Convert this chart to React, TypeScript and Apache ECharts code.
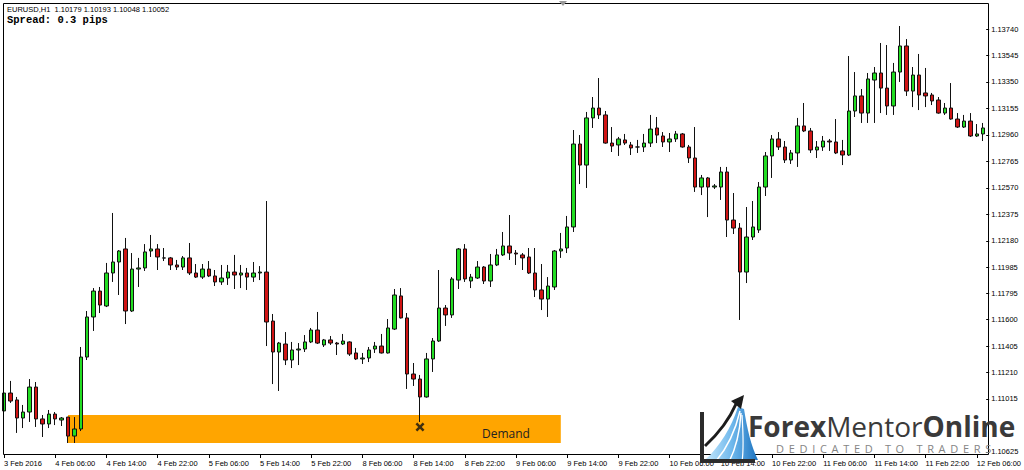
import React, { useEffect, useRef } from "react";
import * as echarts from "echarts";

// x-axis tick labels, one every LABEL_STEP hourly bars
const timeLabels = [
  "3 Feb 2016", "4 Feb 06:00", "4 Feb 14:00", "4 Feb 22:00", "5 Feb 06:00",
  "5 Feb 14:00", "5 Feb 22:00", "8 Feb 06:00", "8 Feb 14:00", "8 Feb 22:00",
  "9 Feb 06:00", "9 Feb 14:00", "9 Feb 22:00", "10 Feb 06:00", "10 Feb 14:00",
  "10 Feb 22:00", "11 Feb 06:00", "11 Feb 14:00", "11 Feb 22:00", "12 Feb 06:00",
];
const LABEL_STEP = 8;

// right axis price labels
const priceTicks = [
  1.1374, 1.13545, 1.1335, 1.13155, 1.1296, 1.12765, 1.1257, 1.12375,
  1.1218, 1.11985, 1.11795, 1.116, 1.11405, 1.1121, 1.11015, 1.10625,
];
const priceMin = 1.106025;
const priceMax = 1.139315;

// EURUSD H1 candles: [open, close, low, high]
const candles: number[][] = [
  [1.10927, 1.11059, 1.10765, 1.1114], [1.11059, 1.11, 1.10986, 1.11148],
  [1.11008, 1.10875, 1.10765, 1.1103], [1.10875, 1.10919, 1.10801, 1.10971],
  [1.10919, 1.11103, 1.10846, 1.11162], [1.11103, 1.10868, 1.10809, 1.1114],
  [1.10868, 1.10831, 1.10735, 1.10897], [1.10831, 1.10904, 1.10801, 1.10934],
  [1.10904, 1.10868, 1.10823, 1.10919], [1.1086, 1.10875, 1.10816, 1.10882],
  [1.10882, 1.10742, 1.10691, 1.10882], [1.10742, 1.10794, 1.10691, 1.10882],
  [1.10794, 1.11324, 1.10779, 1.11398], [1.11324, 1.11619, 1.11302, 1.11663],
  [1.11619, 1.1181, 1.11516, 1.11832], [1.1181, 1.11707, 1.11648, 1.1184],
  [1.117, 1.11943, 1.11692, 1.12017], [1.11943, 1.12024, 1.11877, 1.12385],
  [1.12024, 1.12105, 1.11781, 1.12112], [1.1212, 1.11663, 1.11567, 1.12201],
  [1.11663, 1.11972, 1.11656, 1.1209], [1.11972, 1.1198, 1.1184, 1.12054],
  [1.1198, 1.12098, 1.11958, 1.12156], [1.12105, 1.1212, 1.12061, 1.12223],
  [1.1212, 1.12061, 1.11965, 1.12156], [1.12054, 1.12053, 1.12031, 1.12127],
  [1.12054, 1.12002, 1.11965, 1.12061], [1.12002, 1.11987, 1.11965, 1.12039],
  [1.11987, 1.12054, 1.11965, 1.12068], [1.12054, 1.11943, 1.11928, 1.12164],
  [1.11943, 1.11913, 1.11906, 1.12009], [1.11913, 1.11972, 1.11899, 1.12009],
  [1.11972, 1.11921, 1.11913, 1.12031], [1.11921, 1.11877, 1.11847, 1.11965],
  [1.11877, 1.11906, 1.11855, 1.12002], [1.11906, 1.1195, 1.11855, 1.12002],
  [1.1195, 1.11928, 1.11825, 1.12076], [1.11928, 1.11943, 1.11832, 1.12002],
  [1.11943, 1.11913, 1.11818, 1.1198], [1.11913, 1.11943, 1.11877, 1.12024],
  [1.11943, 1.1195, 1.11891, 1.11994], [1.1195, 1.11582, 1.11405, 1.12473],
  [1.11589, 1.11361, 1.11125, 1.11641], [1.11361, 1.11427, 1.11074, 1.11435],
  [1.1142, 1.11302, 1.11265, 1.11508], [1.11302, 1.11376, 1.11243, 1.11435],
  [1.11376, 1.11383, 1.11265, 1.11427], [1.11383, 1.11435, 1.11361, 1.11486],
  [1.11435, 1.11523, 1.11427, 1.11538], [1.11523, 1.11427, 1.1142, 1.11656],
  [1.11413, 1.1145, 1.11398, 1.11457], [1.1145, 1.11427, 1.11413, 1.11479],
  [1.11427, 1.1142, 1.11339, 1.11435], [1.1142, 1.11442, 1.11413, 1.11494],
  [1.11435, 1.11346, 1.11332, 1.1144], [1.11354, 1.1131, 1.11302, 1.11391],
  [1.1131, 1.11317, 1.11273, 1.11354], [1.11317, 1.11376, 1.11287, 1.11398],
  [1.11383, 1.11405, 1.11354, 1.11435], [1.11405, 1.11354, 1.1135, 1.11494],
  [1.11354, 1.11538, 1.1135, 1.11604], [1.1153, 1.11781, 1.11523, 1.11825],
  [1.11774, 1.11612, 1.11608, 1.11832], [1.11612, 1.11199, 1.11089, 1.11648],
  [1.11199, 1.11162, 1.11111, 1.1128], [1.11162, 1.1103, 1.10846, 1.11192],
  [1.1103, 1.1131, 1.11025, 1.11354], [1.1131, 1.11442, 1.11214, 1.11464],
  [1.11442, 1.11685, 1.11435, 1.11965], [1.11685, 1.11634, 1.11553, 1.11707],
  [1.11634, 1.11899, 1.11612, 1.11913], [1.11891, 1.1212, 1.11825, 1.12127],
  [1.1212, 1.11899, 1.11877, 1.12156], [1.11884, 1.11913, 1.11832, 1.11936],
  [1.11906, 1.11987, 1.11899, 1.12031], [1.11987, 1.11884, 1.11862, 1.11994],
  [1.11884, 1.12002, 1.1184, 1.12083], [1.12002, 1.12076, 1.11994, 1.1212],
  [1.12076, 1.12142, 1.12068, 1.12245], [1.12142, 1.1209, 1.12039, 1.1237],
  [1.1209, 1.12083, 1.12002, 1.12112], [1.12076, 1.12054, 1.11965, 1.1209],
  [1.12061, 1.11943, 1.11936, 1.12127], [1.11943, 1.11818, 1.11766, 1.12127],
  [1.11818, 1.11751, 1.1167, 1.12009], [1.11751, 1.11847, 1.11619, 1.11913],
  [1.1184, 1.12105, 1.11818, 1.12112], [1.12105, 1.1212, 1.12054, 1.12238],
  [1.12127, 1.12282, 1.1209, 1.12363], [1.12282, 1.12893, 1.12245, 1.12996],
  [1.12893, 1.12738, 1.12598, 1.12959], [1.12738, 1.13085, 1.12569, 1.13129],
  [1.13085, 1.13158, 1.13011, 1.13239], [1.13158, 1.13107, 1.13077, 1.13379],
  [1.13107, 1.129, 1.12895, 1.13136], [1.129, 1.12878, 1.12834, 1.13018],
  [1.12886, 1.1293, 1.12805, 1.12945], [1.12923, 1.129, 1.12886, 1.12967],
  [1.12886, 1.12864, 1.12812, 1.12908], [1.12871, 1.12871, 1.12827, 1.12923],
  [1.12871, 1.129, 1.12834, 1.12967], [1.129, 1.13003, 1.12871, 1.13107],
  [1.13011, 1.12959, 1.129, 1.13092], [1.12952, 1.12908, 1.12871, 1.12981],
  [1.12908, 1.1293, 1.12834, 1.12974], [1.1293, 1.12967, 1.12908, 1.12989],
  [1.12967, 1.12871, 1.12866, 1.12974], [1.12871, 1.1279, 1.12753, 1.12886],
  [1.1279, 1.12576, 1.1254, 1.13018], [1.12576, 1.12643, 1.12517, 1.12665],
  [1.12643, 1.12576, 1.12355, 1.1265], [1.12576, 1.12584, 1.12562, 1.12598],
  [1.12576, 1.12687, 1.12481, 1.12724], [1.12687, 1.12333, 1.12208, 1.12724],
  [1.12333, 1.12274, 1.1223, 1.12532], [1.12274, 1.1195, 1.11597, 1.12311],
  [1.1195, 1.12208, 1.11869, 1.12429], [1.12208, 1.12282, 1.12186, 1.12473],
  [1.1226, 1.12576, 1.12238, 1.12613], [1.12576, 1.12805, 1.1251, 1.12834],
  [1.12805, 1.1293, 1.12643, 1.12959], [1.1293, 1.12871, 1.12849, 1.12981],
  [1.12871, 1.12775, 1.12753, 1.12915], [1.12775, 1.12827, 1.12746, 1.12849],
  [1.12827, 1.13026, 1.12724, 1.13085], [1.13026, 1.12989, 1.12981, 1.13195],
  [1.12989, 1.12849, 1.12827, 1.13011], [1.12849, 1.12871, 1.1279, 1.12915],
  [1.12871, 1.12915, 1.12842, 1.12952], [1.12915, 1.12908, 1.12842, 1.1293],
  [1.12908, 1.12827, 1.12819, 1.13077], [1.12842, 1.12812, 1.12738, 1.12923],
  [1.12812, 1.13136, 1.12805, 1.13541], [1.13136, 1.13247, 1.13092, 1.13423],
  [1.13247, 1.13121, 1.13048, 1.13298], [1.13121, 1.13372, 1.13048, 1.13416],
  [1.13364, 1.13416, 1.13048, 1.1346], [1.13416, 1.13305, 1.13121, 1.13637],
  [1.13305, 1.13173, 1.13107, 1.13622], [1.13173, 1.13423, 1.13107, 1.1349],
  [1.13423, 1.13615, 1.1335, 1.13762], [1.13615, 1.13283, 1.13247, 1.13666],
  [1.13283, 1.13401, 1.13165, 1.1346], [1.13401, 1.13254, 1.13143, 1.13556],
  [1.13269, 1.13247, 1.13165, 1.13453], [1.13254, 1.1321, 1.1318, 1.13269],
  [1.13217, 1.13121, 1.13116, 1.13239], [1.13121, 1.13158, 1.13107, 1.13195],
  [1.13158, 1.13077, 1.13072, 1.13342], [1.13077, 1.13018, 1.13011, 1.13121],
  [1.13018, 1.13062, 1.13011, 1.13107], [1.13062, 1.12952, 1.12945, 1.13121],
  [1.12952, 1.12967, 1.12945, 1.1304], [1.12967, 1.13011, 1.12915, 1.13048],
];

const barIndex = candles.map((_, i) => String(i));

// demand zone drawn on the chart (bar index range, price range)
const demandStart = 10;
const demandEnd = 87;
const demandTop = 1.10897;
const demandBottom = 1.10691;
// the touch marker "x"
const touchBar = 65;
const touchPrice = 1.10809;

const headerText = "EURUSD,H1  1.10179 1.10193 1.10048 1.10052";
const spreadText = "Spread: 0.3 pips";
const tagline = "DEDICATED TO TRADERS";

echarts.graphic.registerShape(
  "swoosh",
  echarts.graphic.extendPath(
    "M706,459 C720,446 731,428 738,407 L744,409 C747,428 751,446 758,460 Z",
    {}
  )
);

export default function App() {
  const ref = useRef<HTMLDivElement>(null);

  useEffect(() => {
    if (!ref.current) return;
    const chart = echarts.init(ref.current, null, { renderer: "svg" });
    const axisFont = "Liberation Sans, Arial, sans-serif";

    const option: any = {
      animation: false,
      backgroundColor: "#ffffff",
      grid: { left: 4, right: 39, top: 3, bottom: 15, containLabel: false },
      xAxis: {
        type: "category",
        data: barIndex,
        boundaryGap: false,
        axisLine: { show: false },
        axisTick: {
          show: true,
          length: 3,
          interval: (i: number) => i % LABEL_STEP === 0,
          lineStyle: { color: "#000" },
        },
        axisLabel: {
          interval: (i: number) => i % LABEL_STEP === 0,
          formatter: (_v: string, i: number) => timeLabels[i / LABEL_STEP] || "",
          align: "left",
          margin: 4,
          fontSize: 7.5,
          color: "#000",
          fontFamily: axisFont,
        },
        splitLine: { show: false },
      },
      yAxis: {
        type: "value",
        position: "right",
        offset: 3,
        min: priceMin,
        max: priceMax,
        scale: true,
        axisLine: { show: false },
        splitLine: { show: false },
        axisTick: {
          show: true,
          length: 3,
          customValues: priceTicks,
          lineStyle: { color: "#000" },
        },
        axisLabel: {
          customValues: priceTicks,
          formatter: (v: number) => v.toFixed(5),
          margin: 5,
          fontSize: 7.5,
          color: "#000",
          fontFamily: axisFont,
        },
      },
      series: [
        {
          type: "candlestick",
          data: candles,
          barWidth: 4,
          z: 3,
          itemStyle: {
            color: "#22dd22",
            color0: "#d01414",
            borderColor: "#111",
            borderColor0: "#111",
            borderWidth: 1,
          },
          markArea: {
            silent: true,
            z: 1,
            itemStyle: { color: "#FFA500", opacity: 1 },
            label: { show: false },
            data: [
              [
                { xAxis: demandStart, yAxis: demandTop },
                { xAxis: demandEnd, yAxis: demandBottom },
              ],
            ],
          },
        },
        {
          type: "scatter",
          data: [[touchBar, touchPrice]],
          symbol:
            "path://M2,0L5,3L8,0L10,2L7,5L10,8L8,10L5,7L2,10L0,8L3,5L0,2Z",
          symbolSize: 9,
          itemStyle: { color: "#111" },
          z: 5,
          silent: true,
        },
      ],
      graphic: [
        {
          type: "rect",
          shape: { x: 3.5, y: 3.5, width: 985, height: 451 },
          style: { fill: "none", stroke: "#000", lineWidth: 1 },
          silent: true,
          z: 10,
        },
        {
          type: "polygon",
          shape: { points: [[559, 1], [567, 1], [563, 6]] },
          style: { fill: "#999" },
          z: 10,
        },
        {
          type: "text",
          x: 7,
          y: 9,
          style: {
            text: headerText,
            fill: "#000",
            font: "7.5px Liberation Sans, Arial, sans-serif",
            verticalAlign: "middle",
          },
          z: 10,
        },
        {
          type: "text",
          x: 7,
          y: 20,
          style: {
            text: spreadText,
            fill: "#000",
            font: "bold 10.5px Liberation Mono, Courier New, monospace",
            verticalAlign: "middle",
          },
          z: 10,
        },
        {
          type: "text",
          x: 482,
          y: 433,
          style: {
            text: "Demand",
            fill: "#222",
            font: "12px Open Sans, sans-serif",
            verticalAlign: "middle",
          },
          z: 10,
        },
        // logo
        {
          type: "swoosh",
          x: 0,
          y: 0,
          style: {
            fill: new echarts.graphic.LinearGradient(0, 0, 1, 0, [
              { offset: 0, color: "#c3e6fb" },
              { offset: 0.5, color: "#6fb8ec" },
              { offset: 1, color: "#1b72bf" },
            ]),
          },
          z: 20,
        },
        {
          type: "bezierCurve",
          shape: { x1: 716, y1: 461, x2: 740, y2: 411, cpx1: 728, cpy1: 447, cpx2: 736, cpy2: 428 },
          style: { stroke: "#fff", lineWidth: 1.5, fill: "none" },
          z: 21,
        },
        {
          type: "bezierCurve",
          shape: { x1: 729, y1: 462, x2: 741, y2: 413, cpx1: 736, cpy1: 448, cpx2: 740, cpy2: 430 },
          style: { stroke: "#fff", lineWidth: 1.5, fill: "none" },
          z: 21,
        },
        {
          type: "bezierCurve",
          shape: { x1: 742, y1: 462, x2: 742, y2: 415, cpx1: 744, cpy1: 448, cpx2: 743, cpy2: 430 },
          style: { stroke: "#fff", lineWidth: 1.2, fill: "none" },
          z: 21,
        },
        {
          type: "bezierCurve",
          shape: { x1: 705, y1: 446, x2: 736, y2: 404, cpx1: 718, cpy1: 434, cpx2: 729, cpy2: 420 },
          style: { stroke: "#1c1c1c", lineWidth: 3, fill: "none" },
          z: 22,
        },
        {
          type: "polygon",
          shape: { points: [[731, 401], [744, 395], [741, 409]] },
          style: { fill: "#1c1c1c" },
          z: 22,
        },
        {
          type: "rect",
          shape: { x: 700, y: 412, width: 4, height: 51 },
          style: { fill: "#2b2b2b" },
          z: 23,
        },
        {
          type: "rect",
          shape: { x: 700, y: 459, width: 55, height: 4 },
          style: { fill: "#2b2b2b" },
          z: 23,
        },
        {
          type: "text",
          x: 748,
          y: 426,
          style: {
            text: "{b|Forex}{r|Mentor}{b|Online}",
            verticalAlign: "middle",
            rich: {
              b: { font: "bold 28px Open Sans, sans-serif", fill: "#3a3a3a", lineHeight: 20 },
              r: { font: "28px Open Sans, sans-serif", fill: "#3a3a3a", lineHeight: 20 },
            },
          },
          z: 23,
        },
        {
          type: "text",
          x: 776,
          y: 448,
          style: {
            text: tagline.split("").join(" \u2009"),
            fill: "#858585",
            font: "11px Open Sans, sans-serif",
            verticalAlign: "middle",
            lineHeight: 8,
          },
          z: 23,
        },
      ],
    };

    chart.setOption(option);
    return () => chart.dispose();
  }, []);

  return (
    <div
      ref={ref}
      style={{ position: "absolute", left: 0, top: 0, width: 1024, height: 470 }}
    />
  );
}
